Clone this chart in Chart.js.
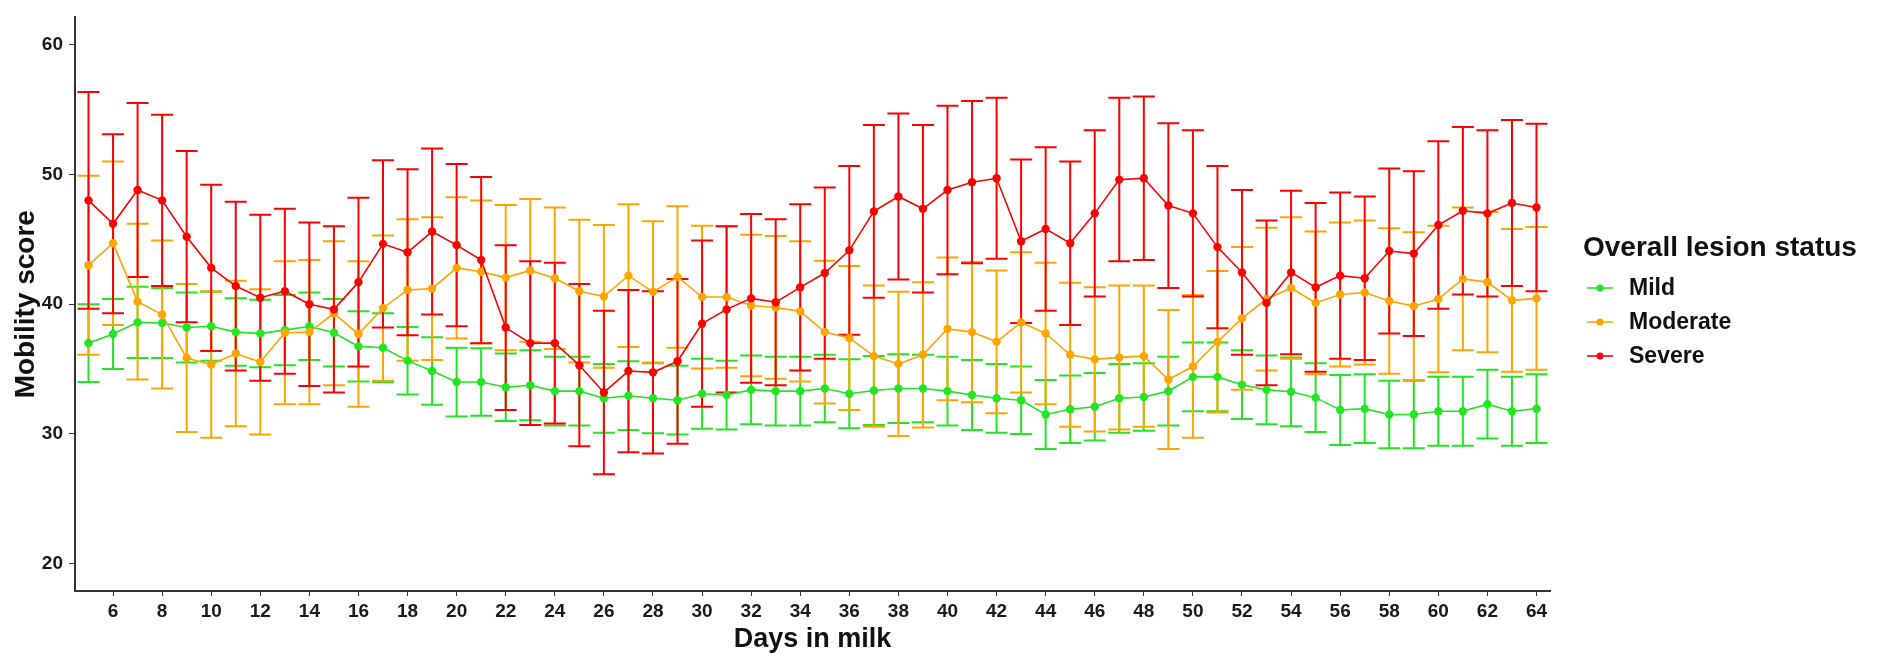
<!DOCTYPE html>
<html>
<head>
<meta charset="utf-8">
<script src="https://cdn.jsdelivr.net/npm/chart.js@4.4.1/dist/chart.umd.min.js"></script>
<style>
  html, body { margin: 0; padding: 0; background: #fff; }
  #wrap { width: 1881px; height: 661px; }
</style>
</head>
<body>
<div id="wrap"><canvas id="mobilityChart" width="1881" height="661"></canvas></div>
<script>
const days = [5, 6, 7, 8, 9, 10, 11, 12, 13, 14, 15, 16, 17, 18, 19, 20, 21, 22, 23, 24,
    25, 26, 27, 28, 29, 30, 31, 32, 33, 34, 35, 36, 37, 38, 39, 40, 41, 42, 43, 44,
    45, 46, 47, 48, 49, 50, 51, 52, 53, 54, 55, 56, 57, 58, 59, 60, 61, 62, 63, 64];
const xTicks = [6, 8, 10, 12, 14, 16, 18, 20, 22, 24, 26, 28, 30, 32, 34, 36, 38, 40,
    42, 44, 46, 48, 50, 52, 54, 56, 58, 60, 62, 64];
const yTicks = [20, 30, 40, 50, 60];

const mildMean = [37.0, 37.7, 38.6, 38.55, 38.2, 38.3, 37.85, 37.75, 38.0, 38.3, 37.8, 36.75, 36.65, 35.65, 34.85, 34.0, 34.0, 33.6, 33.75, 33.3,
    33.3, 32.75, 32.95, 32.75, 32.6, 33.1, 33.0, 33.4, 33.3, 33.3, 33.5, 33.1, 33.35, 33.5, 33.5, 33.3, 33.0, 32.75, 32.6, 31.5,
    31.9, 32.1, 32.75, 32.85, 33.3, 34.4, 34.4, 33.8, 33.4, 33.25, 32.8, 31.85, 31.95, 31.5, 31.5, 31.75, 31.75, 32.3, 31.75, 31.95];
const mildErr = [3.0, 2.7, 2.75, 2.7, 2.7, 2.65, 2.6, 2.6, 2.7, 2.6, 2.6, 2.7, 2.65, 2.6, 2.6, 2.65, 2.6, 2.6, 2.7, 2.65,
    2.65, 2.65, 2.65, 2.7, 2.65, 2.7, 2.65, 2.65, 2.65, 2.65, 2.6, 2.65, 2.65, 2.65, 2.6, 2.65, 2.7, 2.65, 2.6, 2.65,
    2.6, 2.6, 2.65, 2.6, 2.65, 2.65, 2.65, 2.65, 2.65, 2.65, 2.65, 2.7, 2.65, 2.6, 2.6, 2.65, 2.65, 2.65, 2.65, 2.65];

const moderateMean = [43.0, 44.7, 40.2, 39.2, 35.85, 35.35, 36.2, 35.55, 37.8, 37.85, 39.3, 37.7, 39.7, 41.1, 41.2, 42.8, 42.5, 42.05, 42.6, 42.0,
    41.0, 40.6, 42.2, 40.95, 42.1, 40.55, 40.55, 39.9, 39.75, 39.45, 37.85, 37.4, 36.0, 35.4, 36.1, 38.1, 37.85, 37.1, 38.6, 37.75,
    36.1, 35.75, 35.9, 36.0, 34.2, 35.2, 37.1, 38.9, 40.4, 41.25, 40.1, 40.75, 40.9, 40.25, 39.85, 40.4, 41.95, 41.7, 40.3, 40.45];
const moderateErr = [6.9, 6.3, 6.0, 5.7, 5.7, 5.65, 5.6, 5.6, 5.5, 5.55, 5.55, 5.6, 5.6, 5.45, 5.5, 5.45, 5.5, 5.6, 5.5, 5.45,
    5.5, 5.5, 5.5, 5.45, 5.45, 5.5, 5.45, 5.45, 5.5, 5.4, 5.5, 5.55, 5.45, 5.55, 5.6, 5.5, 5.4, 5.5, 5.4, 5.45,
    5.55, 5.55, 5.55, 5.45, 5.35, 5.5, 5.45, 5.5, 5.5, 5.45, 5.5, 5.55, 5.55, 5.6, 5.7, 5.65, 5.5, 5.4, 5.5, 5.5];

const severeMean = [48.0, 46.2, 48.8, 48.0, 45.2, 42.8, 41.4, 40.5, 41.0, 40.0, 39.6, 41.7, 44.65, 44.0, 45.6, 44.55, 43.4, 38.2, 37.0, 37.0,
    35.3, 33.2, 34.85, 34.75, 35.6, 38.5, 39.6, 40.45, 40.15, 41.3, 42.4, 44.15, 47.15, 48.3, 47.35, 48.8, 49.4, 49.7, 44.85, 45.8,
    44.7, 47.0, 49.6, 49.7, 47.6, 47.0, 44.4, 42.45, 40.1, 42.45, 41.3, 42.2, 42.0, 44.1, 43.9, 46.1, 47.2, 47.0, 47.8, 47.45];
const severeErr = [8.35, 6.9, 6.7, 6.6, 6.6, 6.4, 6.5, 6.4, 6.35, 6.3, 6.4, 6.5, 6.45, 6.4, 6.4, 6.25, 6.4, 6.35, 6.3, 6.2,
    6.25, 6.3, 6.25, 6.25, 6.35, 6.4, 6.4, 6.5, 6.4, 6.4, 6.6, 6.5, 6.65, 6.4, 6.45, 6.5, 6.25, 6.2, 6.3, 6.3,
    6.3, 6.4, 6.3, 6.3, 6.35, 6.4, 6.25, 6.35, 6.35, 6.3, 6.5, 6.4, 6.3, 6.35, 6.35, 6.45, 6.45, 6.4, 6.4, 6.45];

const seriesNames = ['Mild', 'Moderate', 'Severe'];
const seriesColors = ['#22e622', '#ffa500', '#ff0000'];
const legendTitle = 'Overall lesion status';

const FONT = "'Liberation Sans', Arial, sans-serif";

function makeDataset(name, means, errs, color, order) {
    return {
        label: name,
        data: days.map((d, i) => ({ x: d, y: means[i] })),
        errors: errs,
        borderColor: color,
        backgroundColor: color,
        borderWidth: 1.6,
        pointRadius: 4.2,
        pointHoverRadius: 4.2,
        pointBorderWidth: 0,
        tension: 0,
        order: order
    };
}

// error bars, drawn under lines and points
const errorBars = {
    id: 'errorBars',
    beforeDatasetsDraw(chart) {
        const ctx = chart.ctx;
        const xs = chart.scales.x, ys = chart.scales.y;
        ctx.save();
        chart.data.datasets.forEach(ds => {
            ctx.strokeStyle = ds.borderColor;
            ctx.lineWidth = 2;
            ds.data.forEach((p, i) => {
                const e = ds.errors[i];
                const x = xs.getPixelForValue(p.x);
                const y1 = ys.getPixelForValue(p.y + e);
                const y2 = ys.getPixelForValue(p.y - e);
                ctx.beginPath();
                ctx.moveTo(x, y1); ctx.lineTo(x, y2);
                ctx.moveTo(x - 11, y1); ctx.lineTo(x + 11, y1);
                ctx.moveTo(x - 11, y2); ctx.lineTo(x + 11, y2);
                ctx.stroke();
            });
        });
        ctx.restore();
    }
};

// ggplot-like legend on the right
const sideLegend = {
    id: 'sideLegend',
    afterDraw(chart) {
        const ctx = chart.ctx;
        const left = chart.chartArea.right + 33;
        ctx.save();
        ctx.fillStyle = '#111';
        ctx.textBaseline = 'middle';
        ctx.textAlign = 'left';
        ctx.font = 'bold 28px ' + FONT;
        ctx.fillText(legendTitle, left, 248);
        ctx.font = 'bold 23px ' + FONT;
        seriesNames.forEach((name, i) => {
            const y = 288 + i * 34;
            ctx.strokeStyle = seriesColors[i];
            ctx.lineWidth = 1.6;
            ctx.beginPath();
            ctx.moveTo(left + 4, y); ctx.lineTo(left + 30, y);
            ctx.stroke();
            ctx.fillStyle = seriesColors[i];
            ctx.beginPath();
            ctx.arc(left + 17, y, 3.5, 0, Math.PI * 2);
            ctx.fill();
            ctx.fillStyle = '#111';
            ctx.fillText(name, left + 46, y + 1);
        });
        ctx.restore();
    }
};

const ctx = document.getElementById('mobilityChart').getContext('2d');
const mobilityChart = new Chart(ctx, {
    type: 'line',
    data: {
        datasets: [
            makeDataset(seriesNames[0], mildMean, mildErr, seriesColors[0], 3),
            makeDataset(seriesNames[1], moderateMean, moderateErr, seriesColors[1], 2),
            makeDataset(seriesNames[2], severeMean, severeErr, seriesColors[2], 1)
        ]
    },
    options: {
        responsive: false,
        devicePixelRatio: 1,
        animation: false,
        layout: { padding: { left: 0, top: 8, right: 331, bottom: 0 } },
        plugins: {
            legend: { display: false },
            tooltip: { enabled: false }
        },
        scales: {
            x: {
                type: 'linear',
                min: 4.45,
                max: 64.55,
                afterBuildTicks: axis => { axis.ticks = xTicks.map(v => ({ value: v })); },
                afterFit: axis => { axis.height = 70; },
                grid: { drawOnChartArea: false, drawTicks: true, tickLength: 5, color: '#333' },
                border: { display: true, color: '#333', width: 2 },
                ticks: {
                    color: '#1a1a1a',
                    padding: 4,
                    maxRotation: 0,
                    autoSkip: false,
                    font: { family: FONT, size: 19, weight: 'bold' }
                },
                title: {
                    display: true,
                    text: 'Days in milk',
                    color: '#111',
                    padding: { top: 0, bottom: 5 },
                    font: { family: FONT, size: 27, weight: 'bold' }
                }
            },
            y: {
                min: 17.9,
                max: 62.1,
                afterBuildTicks: axis => { axis.ticks = yTicks.map(v => ({ value: v })); },
                afterFit: axis => { axis.width = 75; },
                grid: { drawOnChartArea: false, drawTicks: true, tickLength: 6, color: '#333' },
                border: { display: true, color: '#333', width: 2 },
                ticks: {
                    color: '#1a1a1a',
                    padding: 6,
                    font: { family: FONT, size: 19, weight: 'bold' }
                },
                title: {
                    display: true,
                    text: 'Mobility score',
                    color: '#111',
                    padding: { top: 9, bottom: 0 },
                    font: { family: FONT, size: 28, weight: 'bold' }
                }
            }
        }
    },
    plugins: [errorBars, sideLegend]
});
</script>
</body>
</html>
